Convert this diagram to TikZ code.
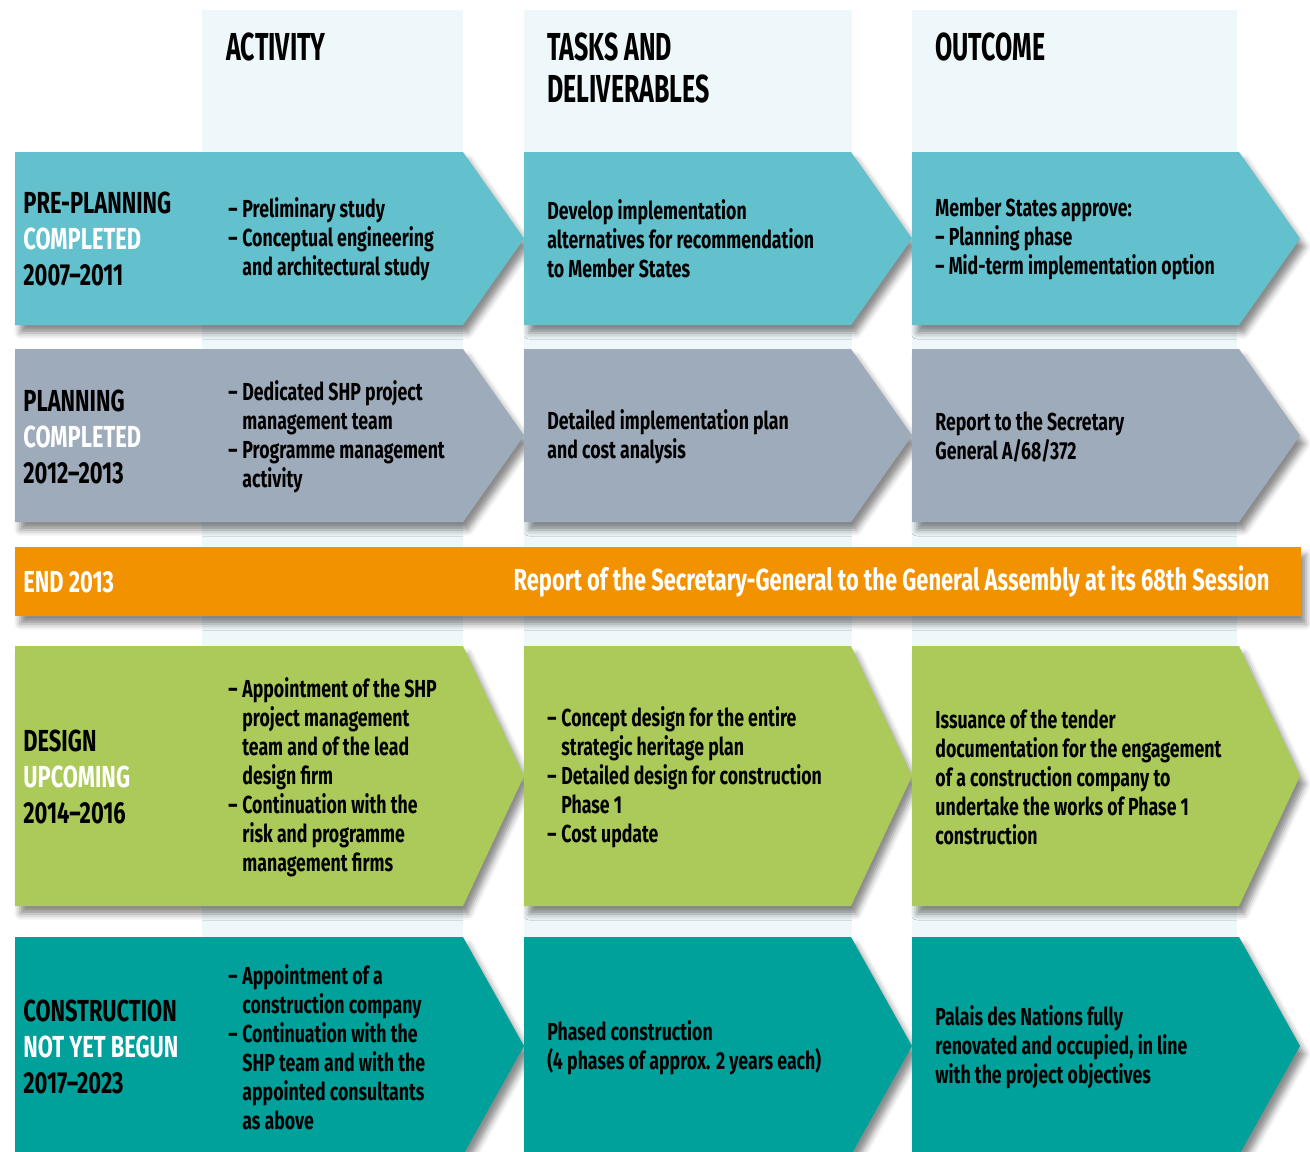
\documentclass[tikz,border=0pt]{standalone}
\usepackage{fontspec}
\setmainfont{Fira Sans}[FakeStretch=0.72]
\newfontfamily\headfont{Fira Sans}[FakeStretch=0.64]
\usetikzlibrary{shadows.blur}
\definecolor{stripc}{HTML}{EEF7FA}
\definecolor{preplanc}{HTML}{63C0CD}
\definecolor{planc}{HTML}{9EABBB}
\definecolor{endc}{HTML}{F39200}
\definecolor{designc}{HTML}{ABCA5A}
\definecolor{buildc}{HTML}{00A19A}
% hanging dash for the lists
\newcommand{\dash}{\makebox[7pt][l]{–}}
\newcommand{\ind}{\hspace*{7pt}}
% chevron: x left, x right, y top, y bottom, colour
\newcommand{\chevron}[5]{%
  \fill[#5, shad] (#1,#3) -- (#2,#3) -- (#2+61,{(#3+#4)/2}) -- (#2,#4) -- (#1,#4) -- cycle;}
\newcommand{\chevrow}[3]{%
  \chevron{15}{463}{#1}{#2}{#3}
  \chevron{524}{851}{#1}{#2}{#3}
  \chevron{912}{1239}{#1}{#2}{#3}}

\begin{document}
\begin{tikzpicture}[x=0.5pt, y=-0.5pt]
	\tikzstyle{shad}=[blur shadow={shadow xshift=2.5pt, shadow yshift=-4pt, shadow blur radius=3pt, shadow opacity=45}]
	\tikzstyle{head}=[anchor=north west, align=left, inner sep=0pt, font=\headfont\bfseries\fontsize{19.5}{21}\selectfont]
	\tikzstyle{rowlab}=[anchor=west, align=left, inner sep=0pt, font=\bfseries\fontsize{15.2}{18}\selectfont]
	\tikzstyle{txt}=[anchor=west, align=left, inner sep=0pt, font=\bfseries\fontsize{12.3}{14.5}\selectfont]
	\useasboundingbox (0,0) rectangle (1310,1151);

	% column strips
	\fill[stripc] (202,10) rectangle (463,1151);
	\fill[stripc] (524,10) rectangle (852,1151);
	\fill[stripc] (912,10) rectangle (1237,1151);

	\node[head] (hact) at (226,32) {ACTIVITY};
	\node[head] (htask) at (547,32) {TASKS AND\\DELIVERABLES};
	\node[head] (hout) at (935,32) {OUTCOME};

	% pre-planning
	\chevrow{152}{325}{preplanc}
	\node[rowlab] (lab1) at (23,239) {PRE-PLANNING\\\textcolor{white}{COMPLETED}\\2007–2011};
	\node[txt] (act1) at (228,239) {\dash Preliminary study\\\dash Conceptual engineering\\\ind and architectural study};
	\node[txt] (task1) at (547,239) {Develop implementation\\alternatives for recommendation\\to Member States};
	\node[txt] (out1) at (935,239) {Member States approve:\\– Planning phase\\– Mid-term implementation option};

	% planning
	\chevrow{349}{522}{planc}
	\node[rowlab] (lab2) at (23,437) {PLANNING\\\textcolor{white}{COMPLETED}\\2012–2013};
	\node[txt] (act2) at (228,437) {\dash Dedicated SHP project\\\ind management team\\\dash Programme management\\\ind activity};
	\node[txt] (task2) at (547,437) {Detailed implementation plan\\and cost analysis};
	\node[txt] (out2) at (935,437) {Report to the Secretary\\General A/68/372};

	% end 2013
	\fill[endc, shad] (15,547) rectangle (1301,616);
	\node[rowlab, text=white] (end) at (23,582) {END 2013};
	\node[rowlab, anchor=east, text=white] (report) at (1270,582) {Report of the Secretary-General to the General Assembly at its 68th Session};

	% design
	\chevrow{646}{906}{designc}
	\node[rowlab] (lab3) at (23,777) {DESIGN\\\textcolor{white}{UPCOMING}\\2014–2016};
	\node[txt] (act3) at (228,777) {\dash Appointment of the SHP\\\ind project management\\\ind team and of the lead\\\ind design firm\\\dash Continuation with the\\\ind risk and programme\\\ind management firms};
	\node[txt] (task3) at (547,777) {\dash Concept design for the entire\\\ind strategic heritage plan\\\dash Detailed design for construction\\\ind Phase 1\\\dash Cost update};
	\node[txt] (out3) at (935,777) {Issuance of the tender\\documentation for the engagement\\of a construction company to\\undertake the works of Phase 1\\construction};

	% construction
	\chevrow{937}{1155}{buildc}
	\node[rowlab] (lab4) at (23,1047) {CONSTRUCTION\\\textcolor{white}{NOT YET BEGUN}\\2017–2023};
	\node[txt] (act4) at (228,1047) {\dash Appointment of a\\\ind construction company\\\dash Continuation with the\\\ind SHP team and with the\\\ind appointed consultants\\\ind as above};
	\node[txt] (task4) at (547,1048) {Phased construction\\(4 phases of approx. 2 years each)};
	\node[txt] (out4) at (935,1047) {Palais des Nations fully\\renovated and occupied, in line\\with the project objectives};
\end{tikzpicture}
\end{document}
